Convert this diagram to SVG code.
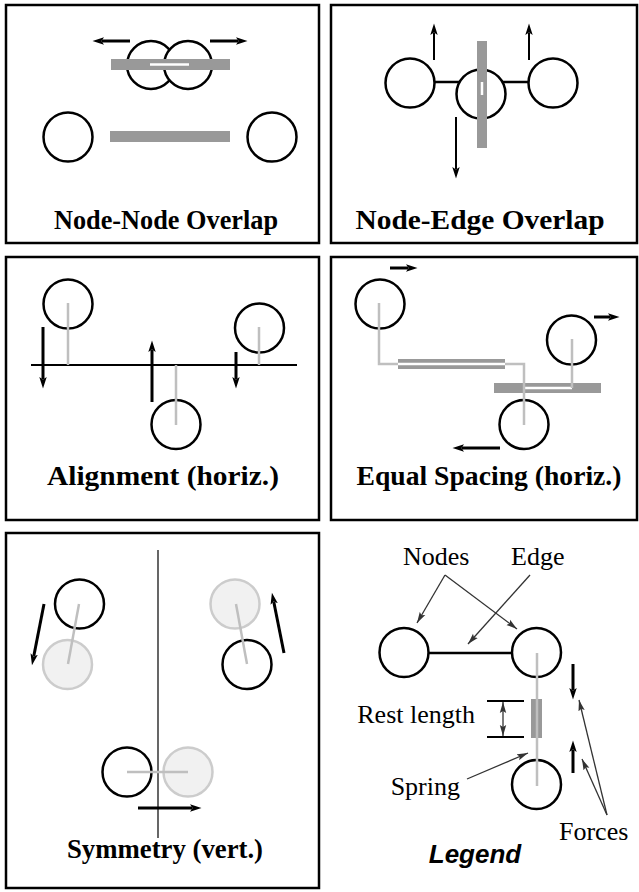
<svg xmlns="http://www.w3.org/2000/svg" width="639" height="892" viewBox="0 0 639 892">
<style>
.frame{fill:none;stroke:#000;stroke-width:2.5}
.node{fill:#fff;stroke:#000;stroke-width:2.5}
.ghost{fill:#f1f1f1;stroke:#cccccc;stroke-width:2.5}
.bar{fill:#999999}
.gap{stroke:#fff;stroke-width:2.5}
.spring{fill:none;stroke:#bfbfbf;stroke-width:2.5}
.edge{stroke:#000;stroke-width:2.5}
.force{stroke:#000;stroke-width:3;marker-end:url(#ah)}
.force2{stroke:#000;stroke-width:2;marker-end:url(#ah)}
.ptr{stroke:#333;stroke-width:1.3;marker-end:url(#th)}
.title{font-family:"Liberation Serif","Times New Roman",serif;font-weight:bold;font-size:28px;text-anchor:middle;fill:#000}
.lab{font-family:"Liberation Serif","Times New Roman",serif;font-size:26px;fill:#000}
.leg{font-family:"Liberation Sans",Arial,sans-serif;font-weight:bold;font-style:italic;font-size:26px;text-anchor:middle;fill:#000}
</style>
<defs>
<marker id="ah" markerUnits="userSpaceOnUse" markerWidth="12" markerHeight="9" refX="2" refY="4.5" orient="auto">
<path d="M0,0.8 L11.5,4.5 L0,8.2 L2.5,4.5 z" fill="#000"/>
</marker>
<marker id="th" markerUnits="userSpaceOnUse" markerWidth="12" markerHeight="8" refX="11" refY="4" orient="auto-start-reverse">
<path d="M0,0.8 L11,4 L0,7.2 L2,4 z" fill="#333"/>
</marker>
</defs>
<rect width="639" height="892" fill="#fff"/>

<g id="panel-node-node">
<rect class="frame" x="6" y="5" width="313" height="238"/>
<circle class="node" cx="151" cy="65" r="24"/>
<circle class="node" cx="188" cy="65" r="24"/>
<rect class="bar" x="111" y="59" width="119" height="11"/>
<line class="gap" x1="150" y1="64.5" x2="189" y2="64.5"/>
<line class="force" x1="130" y1="41" x2="102" y2="41"/>
<line class="force" x1="210" y1="41" x2="238" y2="41"/>
<circle class="node" cx="68" cy="137" r="24.5"/>
<circle class="node" cx="272" cy="137" r="24.5"/>
<rect class="bar" x="110" y="131" width="120" height="11"/>
<text class="title" x="166" y="229" textLength="224" lengthAdjust="spacingAndGlyphs">Node-Node Overlap</text>
</g>

<g id="panel-node-edge">
<rect class="frame" x="331" y="5" width="306" height="238"/>
<line class="edge" x1="434" y1="82" x2="530" y2="82"/>
<circle class="node" cx="410" cy="83" r="24.5"/>
<circle class="node" cx="553" cy="83" r="24.5"/>
<circle class="node" cx="481" cy="94" r="24.5"/>
<rect class="bar" x="477" y="41" width="10" height="107"/>
<line class="gap" x1="482" y1="82" x2="482" y2="95"/>
<line class="force2" x1="434" y1="60" x2="434" y2="33"/>
<line class="force2" x1="529" y1="60" x2="529" y2="33"/>
<line class="force2" x1="456" y1="117" x2="456" y2="169"/>
<text class="title" x="480" y="229" textLength="249" lengthAdjust="spacingAndGlyphs">Node-Edge Overlap</text>
</g>

<g id="panel-alignment">
<rect class="frame" x="6" y="257" width="313" height="263"/>
<line x1="31" y1="365" x2="297" y2="365" stroke="#000" stroke-width="2"/>
<circle class="node" cx="68" cy="304" r="24.5"/>
<circle class="node" cx="176" cy="424.5" r="24.5"/>
<circle class="node" cx="259.5" cy="328" r="24.5"/>
<line class="spring" x1="68" y1="303" x2="68" y2="365"/>
<line class="spring" x1="176" y1="425" x2="176" y2="365"/>
<line class="spring" x1="259" y1="327" x2="259" y2="365"/>
<line class="force" x1="43" y1="327" x2="43" y2="379"/>
<line class="force" x1="152" y1="402" x2="152" y2="350"/>
<line class="force" x1="236" y1="352" x2="236" y2="379"/>
<text class="title" x="163" y="485" textLength="232" lengthAdjust="spacingAndGlyphs">Alignment (horiz.)</text>
</g>

<g id="panel-spacing">
<rect class="frame" x="331" y="257" width="306" height="263"/>
<circle class="node" cx="380" cy="304" r="24.5"/>
<circle class="node" cx="571.5" cy="340" r="24.5"/>
<circle class="node" cx="524" cy="424.5" r="24.5"/>
<rect class="bar" x="398" y="359" width="107" height="10"/>
<line class="gap" x1="398" y1="364" x2="505" y2="364"/>
<rect class="bar" x="494" y="383" width="107" height="10"/>
<line class="gap" x1="524" y1="388" x2="572" y2="388"/>
<polyline class="spring" points="379,303 379,364 398,364"/>
<polyline class="spring" points="505,364 524,364 524,425"/>
<polyline class="spring" points="572,339 572,388"/>
<line class="force" x1="390" y1="268" x2="408" y2="268"/>
<line class="force" x1="594" y1="317" x2="610" y2="317"/>
<line class="force" x1="500" y1="448" x2="462" y2="448"/>
<text class="title" x="489" y="485" textLength="265" lengthAdjust="spacingAndGlyphs">Equal Spacing (horiz.)</text>
</g>

<g id="panel-symmetry">
<rect class="frame" x="6" y="533" width="313" height="355"/>
<line x1="158" y1="550" x2="158" y2="838" stroke="#000" stroke-width="1.2"/>
<circle class="ghost" cx="67.5" cy="664.5" r="24.5"/>
<circle class="node" cx="79.5" cy="604" r="24.5" fill="none"/>
<line class="spring" x1="79" y1="604" x2="68" y2="664"/>
<circle class="ghost" cx="235" cy="604" r="24.5"/>
<circle class="node" cx="247" cy="664.5" r="24.5" fill="none"/>
<line class="spring" x1="236" y1="604" x2="247" y2="664"/>
<circle class="node" cx="127" cy="772" r="24.5"/>
<circle class="ghost" cx="188" cy="772" r="24.5"/>
<line class="spring" x1="127" y1="772" x2="188" y2="772"/>
<line class="force" x1="44" y1="604" x2="33.8" y2="656"/>
<line class="force" x1="284" y1="653" x2="273.8" y2="602"/>
<line class="force" x1="138" y1="808" x2="192" y2="808"/>
<text class="title" x="165" y="858" textLength="196" lengthAdjust="spacingAndGlyphs">Symmetry (vert.)</text>
</g>

<g id="legend">
<line class="edge" x1="428" y1="653" x2="512" y2="653"/>
<circle class="node" cx="404" cy="652.5" r="24.5"/>
<circle class="node" cx="536.5" cy="652.5" r="24.5"/>
<circle class="node" cx="536.5" cy="784.5" r="24.5"/>
<rect class="bar" x="531" y="699" width="11" height="39"/>
<line class="spring" x1="537" y1="653" x2="537" y2="786"/>
<line x1="487" y1="701" x2="524" y2="701" stroke="#000" stroke-width="2"/>
<line x1="487" y1="737" x2="524" y2="737" stroke="#000" stroke-width="2"/>
<line x1="503" y1="702" x2="503" y2="736" stroke="#333" stroke-width="1.3" marker-start="url(#th)" marker-end="url(#th)"/>
<line class="force" x1="573" y1="664" x2="573" y2="690"/>
<line class="force" x1="573" y1="773" x2="573" y2="750"/>
<line class="ptr" x1="445" y1="575" x2="417" y2="623"/>
<line class="ptr" x1="445" y1="575" x2="517" y2="629"/>
<line class="ptr" x1="530" y1="575" x2="468" y2="644"/>
<line class="ptr" x1="467" y1="779" x2="528" y2="753"/>
<line class="ptr" x1="607" y1="815" x2="579" y2="700"/>
<line class="ptr" x1="607" y1="815" x2="582" y2="759"/>
<text class="lab" x="403" y="565">Nodes</text>
<text class="lab" x="511" y="565">Edge</text>
<text class="lab" x="475" y="723" text-anchor="end">Rest length</text>
<text class="lab" x="460" y="795" text-anchor="end">Spring</text>
<text class="lab" x="559" y="840">Forces</text>
<text class="leg" x="475" y="863">Legend</text>
</g>
</svg>
